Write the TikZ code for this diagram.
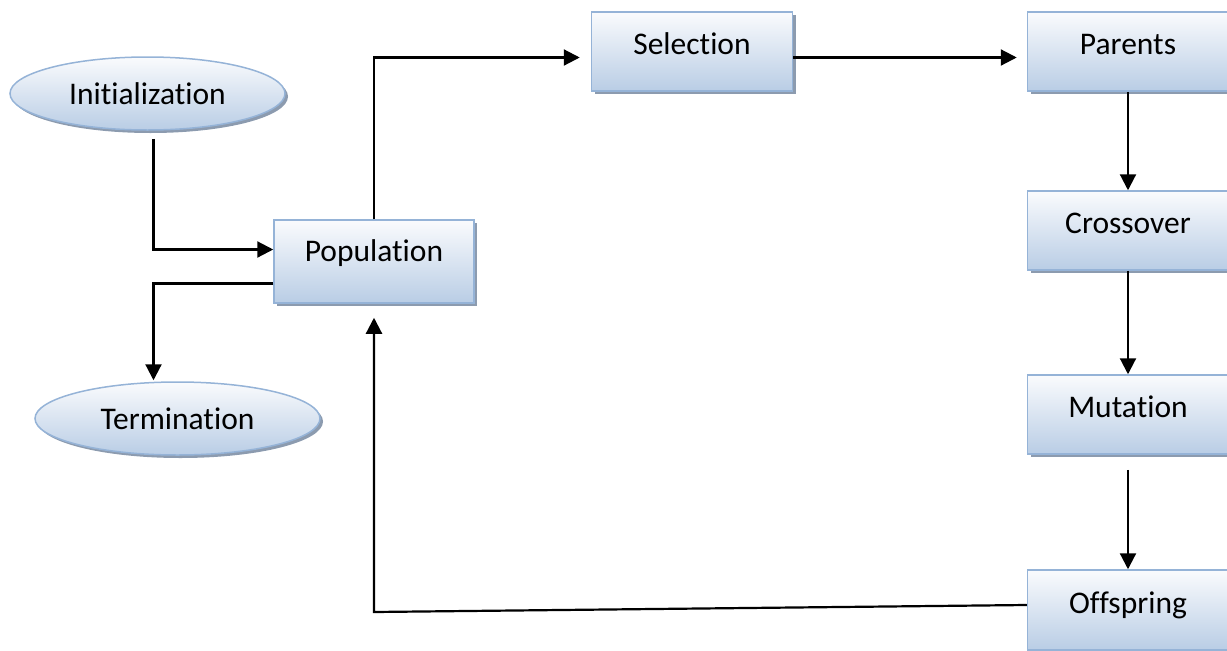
\documentclass[tikz,border=0pt]{standalone}
\usepackage{fontspec}
\setmainfont{Carlito}[RawFeature={-liga,-dlig,-clig}]
\usetikzlibrary{shapes.geometric,shadows,arrows.meta,calc}
\definecolor{bord}{RGB}{149,179,215}
\definecolor{shtop}{RGB}{250,251,253}
\definecolor{shbot}{RGB}{185,205,229}
\definecolor{shad}{RGB}{140,155,175}
\begin{document}
\begin{tikzpicture}[x=1pt,y=-1pt,
  font=\fontsize{31.5}{36}\selectfont,
  shape base/.style={draw=bord, line width=1.5pt, top color=shtop, bottom color=shbot,
    inner sep=0pt,
    drop shadow={shadow xshift=3pt, shadow yshift=-3pt, fill=shad, opacity=1}},
  box/.style={shape base, rectangle, minimum width=201pt, text height=42pt, text depth=37pt},
  oval/.style={shape base, ellipse, minimum height=73pt},
  conn/.style={line width=2.2pt, -{Triangle[length=16pt,width=16pt]}}]
\useasboundingbox (0,0) rectangle (1227,651);
\clip (0,0) rectangle (1227,651);

\node[oval, minimum width=275pt] (init) at (147.5,93.5) {Initialization};
\node[oval, minimum width=285pt] (term) at (177.5,418.5) {Termination};
\node[box, minimum width=200pt, text height=41pt, text depth=42pt] (pop) at (374,261.5) {Population};
\node[box] (sel) at (692,51.5) {Selection};
\node[box] (par) at (1128,51.5) {Parents};
\node[box] (cross) at (1128,230.5) {Crossover};
\node[box] (mut) at (1128,414.5) {Mutation};
\node[box, text height=43pt, text depth=37pt] (off) at (1128,610) {Offspring};

\coordinate (corner) at (374,612);

\draw[conn] ($(init.south)+(6,8)$) |- ($(pop.west)+(0,-12)$);
\draw[conn] ($(pop.west)+(0,22)$) -| ($(term.north)+(-24,-1)$);
\draw[conn] (pop.north) |- ($(sel.west)+(-11,6)$);
\draw[conn] ($(sel.east)+(0,6)$) -- ($(par.west)+(-10,6)$);
\draw[conn] (par.south) -- (cross.north);
\draw[conn] (cross.south) -- (mut.north);
\draw[conn] ($(mut.south)+(0,15)$) -- (off.north);
\draw[conn] ($(off.west)+(0,-5)$) -- (corner) -- ($(pop.south)+(0,14)$);
\end{tikzpicture}
\end{document}
